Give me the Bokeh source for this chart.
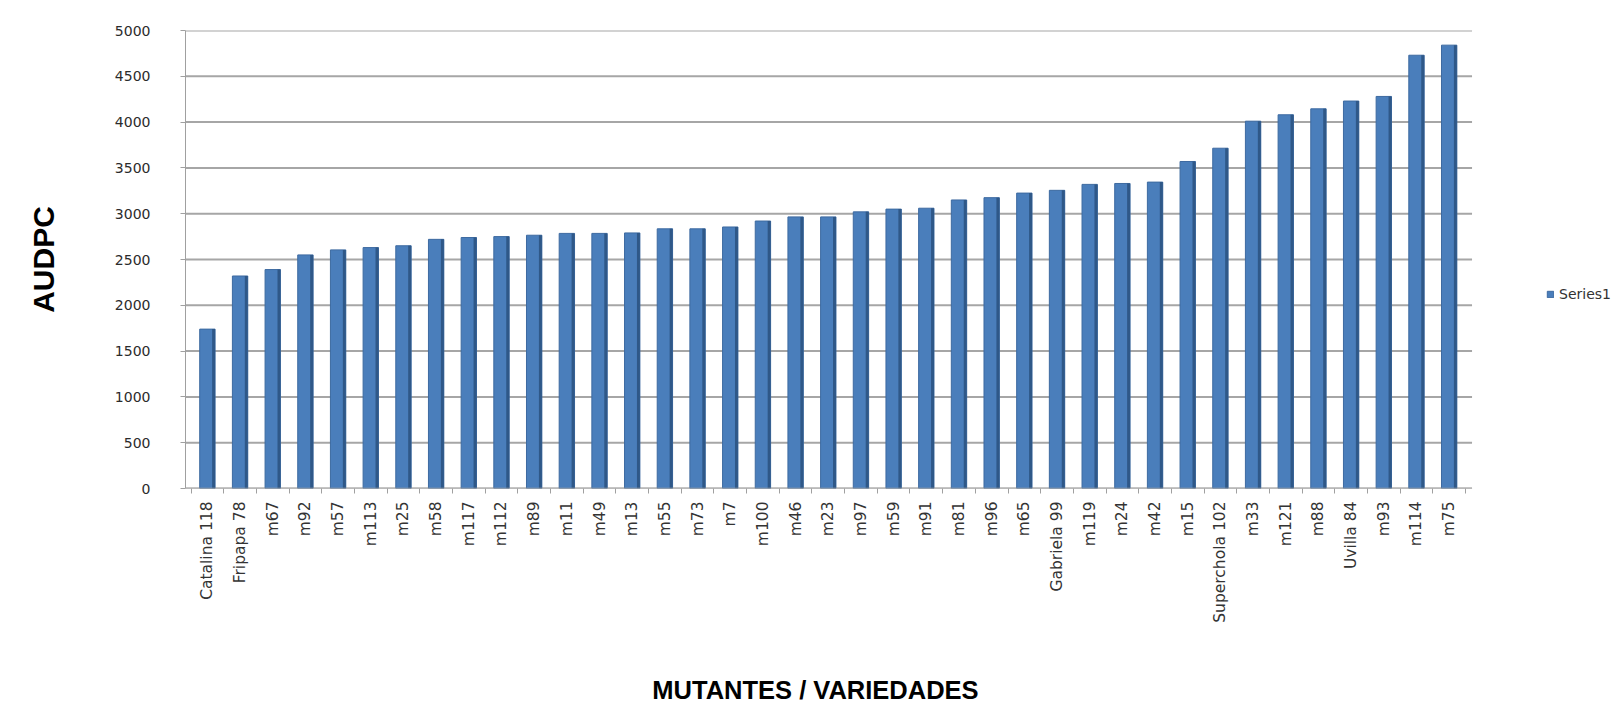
import math
from bokeh.plotting import figure
from bokeh.models import Range1d, Legend, LegendItem, ColumnDataSource, FixedTicker
from bokeh.embed import file_html
from bokeh.resources import INLINE

categories = ["Catalina 118", "Fripapa 78", "m67", "m92", "m57", "m113", "m25", "m58",
              "m117", "m112", "m89", "m11", "m49", "m13", "m55", "m73", "m7", "m100",
              "m46", "m23", "m97", "m59", "m91", "m81", "m96", "m65", "Gabriela 99",
              "m119", "m24", "m42", "m15", "Superchola 102", "m33", "m121", "m88",
              "Uvilla 84", "m93", "m114", "m75"]
audpc = [1740, 2320, 2390, 2550, 2605, 2630, 2650, 2720, 2740, 2750, 2765, 2785, 2785,
         2790, 2835, 2835, 2855, 2920, 2965, 2965, 3020, 3050, 3060, 3150, 3175, 3225,
         3255, 3320, 3330, 3345, 3570, 3715, 4010, 4080, 4145, 4230, 4280, 4730, 4840]
y_ticks = [0, 500, 1000, 1500, 2000, 2500, 3000, 3500, 4000, 4500, 5000]
series_name = "Series1"
x_title = "MUTANTES / VARIEDADES"
y_title = "AUDPC"

n = len(categories)
pos = list(range(n))
src = ColumnDataSource(dict(x=pos, cat=categories, val=audpc))

# plot frame: the chart wall ends just after the last bar; extra room on the right for legend
x_left = -0.67
x_wall_right = (n - 1) + 0.70
x_end = 43.09

p = figure(width=1615, height=706, output_backend="svg", toolbar_location=None,
           x_range=Range1d(x_left, x_end), y_range=Range1d(0, 5000),
           min_border_left=185, min_border_right=0, min_border_top=30, min_border_bottom=218,
           background_fill_color="white", border_fill_color="white")
p.outline_line_color = None
p.xgrid.grid_line_color = None
p.ygrid.grid_line_color = None

# gridlines limited to the chart wall
p.segment(x0=[x_left] * len(y_ticks), y0=y_ticks, x1=[x_wall_right] * len(y_ticks), y1=y_ticks,
          line_color="#a6a6a6", line_width=2)

r = p.vbar(x="x", top="val", width=0.47, source=src,
           fill_color="#4a7ebb", line_color="#3d6aa0", line_width=1)
p.vbar(x=[v + 0.19 for v in pos], top=audpc, width=0.09,
       fill_color="#2f5888", line_color=None)

# y axis
p.yaxis.ticker = FixedTicker(ticks=y_ticks)
p.yaxis.axis_line_color = "#a0a0a0"
p.yaxis.major_tick_line_color = "#a0a0a0"
p.yaxis.major_tick_out = 5
p.yaxis.major_tick_in = 0
p.yaxis.minor_tick_line_color = None
p.yaxis.major_label_text_font = "DejaVu Sans"
p.yaxis.major_label_text_font_size = "14px"
p.yaxis.major_label_text_color = "#2b2b2b"
p.yaxis.major_label_standoff = 30
p.yaxis.axis_label = y_title
p.yaxis.axis_label_text_font = "Liberation Sans"
p.yaxis.axis_label_text_font_style = "bold"
p.yaxis.axis_label_text_font_size = "30px"
p.yaxis.axis_label_text_color = "black"
p.yaxis.axis_label_standoff = 52

# x axis
p.xaxis.ticker = FixedTicker(ticks=pos, minor_ticks=[v - 0.5 for v in pos] + [n - 0.5])
p.xaxis.major_label_overrides = {i: c for i, c in enumerate(categories)}
p.xaxis.axis_line_color = None
p.xaxis.major_tick_line_color = None
p.xaxis.minor_tick_line_color = "#a0a0a0"
p.xaxis.minor_tick_out = 5
p.xaxis.minor_tick_in = 0
p.xaxis.major_label_orientation = math.pi / 2
p.xaxis.major_label_text_font = "DejaVu Sans"
p.xaxis.major_label_text_font_size = "15.5px"
p.xaxis.major_label_text_color = "#333333"
p.xaxis.major_label_standoff = 7
# title centred under the chart wall: trailing no-break spaces shift it left of the frame centre
p.xaxis.axis_label = x_title + "\u00a0" * 24
p.xaxis.axis_label_text_font = "Liberation Sans"
p.xaxis.axis_label_text_font_style = "bold"
p.xaxis.axis_label_text_font_size = "25.5px"
p.xaxis.axis_label_text_color = "black"
p.xaxis.axis_label_standoff = 50

# floor line
p.segment(x0=[x_left], y0=[0], x1=[x_wall_right], y1=[0], line_color="#a0a0a0", line_width=1.5)

legend = Legend(items=[LegendItem(label=series_name, renderers=[r])],
                location=(1361, 186), orientation="vertical",
                glyph_width=8, glyph_height=8, label_standoff=5, padding=0, margin=0,
                border_line_color=None, background_fill_alpha=0,
                label_text_font="DejaVu Sans", label_text_font_size="14px",
                label_text_color="#333333")
p.add_layout(legend, "center")

open("out.html", "w").write(file_html(p, INLINE))
